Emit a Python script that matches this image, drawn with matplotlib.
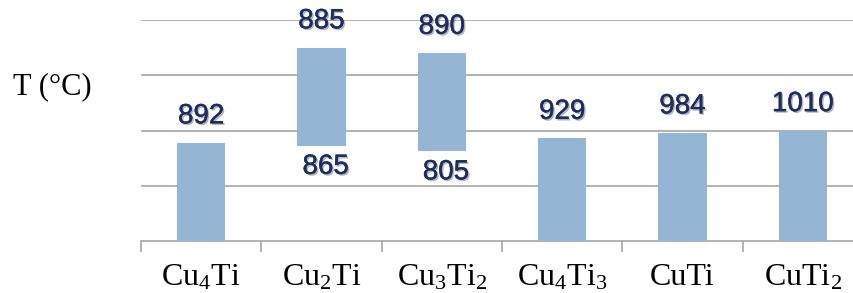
import numpy as np
import matplotlib
matplotlib.use('Agg')
import matplotlib.pyplot as plt
import matplotlib.patheffects as pe

plt.rcParams['mathtext.fontset'] = 'custom'
plt.rcParams['mathtext.rm'] = 'Liberation Serif'
plt.rcParams['mathtext.it'] = 'Liberation Serif'
plt.rcParams['mathtext.default'] = 'rm'

# phases and bar extents (in the chart's own schematic units, gridline = 1)
phases = ['Cu$_4$Ti', 'Cu$_2$Ti', 'Cu$_3$Ti$_2$', 'Cu$_4$Ti$_3$', 'CuTi', 'CuTi$_2$']
bar_top = [1.78, 3.50, 3.40, 1.86, 1.96, 2.00]
bar_bottom = [0, 1.72, 1.62, 0, 0, 0]
top_labels = ['892', '885', '890', '929', '984', '1010']
bottom_labels = [None, '865', '805', None, None, None]

bar_color = '#95b5d4'
num_color = '#1b2d63'
grid_color = '#a6a6a6'

fig = plt.figure(figsize=(8.54, 2.93), dpi=100)
ax = fig.add_axes([0.1651, 0.1775, 0.8455, 0.7542])

x = np.arange(len(phases))
heights = np.array(bar_top) - np.array(bar_bottom)
ax.bar(x, heights, bottom=bar_bottom, width=0.4, color=bar_color, zorder=3)

ax.set_xlim(-0.5, len(phases) - 0.5)
ax.set_ylim(0, 4)
ax.set_yticks([1, 2, 3, 4])
ax.yaxis.grid(True, color=grid_color, linewidth=1.2, zorder=0)
ax.tick_params(axis='y', left=False, labelleft=False)
for s in ['left', 'right', 'top']:
    ax.spines[s].set_visible(False)
ax.spines['bottom'].set_color(grid_color)
ax.spines['bottom'].set_linewidth(1.2)

ax.set_xticks(x)
ax.set_xticklabels(phases, family='Liberation Serif', fontsize=23)
ax.set_xticks(np.arange(len(phases) + 1) - 0.5, minor=True)
ax.tick_params(axis='x', which='major', length=0, pad=16)
ax.tick_params(axis='x', which='minor', length=8, color=grid_color, width=1.2)

shadow = [pe.SimplePatchShadow(offset=(1.2, -1.2), shadow_rgbFace='#707070', alpha=0.5),
          pe.withStroke(linewidth=0.3, foreground=num_color)]
for i in range(len(phases)):
    ax.annotate(top_labels[i], (x[i], bar_top[i]), xytext=(0, 19), textcoords='offset points',
                ha='center', va='center', fontsize=20, family='Liberation Sans',
                color=num_color, path_effects=shadow, annotation_clip=False)
    if bottom_labels[i]:
        ax.annotate(bottom_labels[i], (x[i], bar_bottom[i]), xytext=(3, -15), textcoords='offset points',
                    ha='center', va='center', fontsize=20, family='Liberation Sans',
                    color=num_color, path_effects=shadow, annotation_clip=False)

fig.text(0.0615, 0.703, 'T (\u00b0C)', family='Liberation Serif', fontsize=22,
         ha='center', va='center')

fig.savefig('out.png', dpi=100)
